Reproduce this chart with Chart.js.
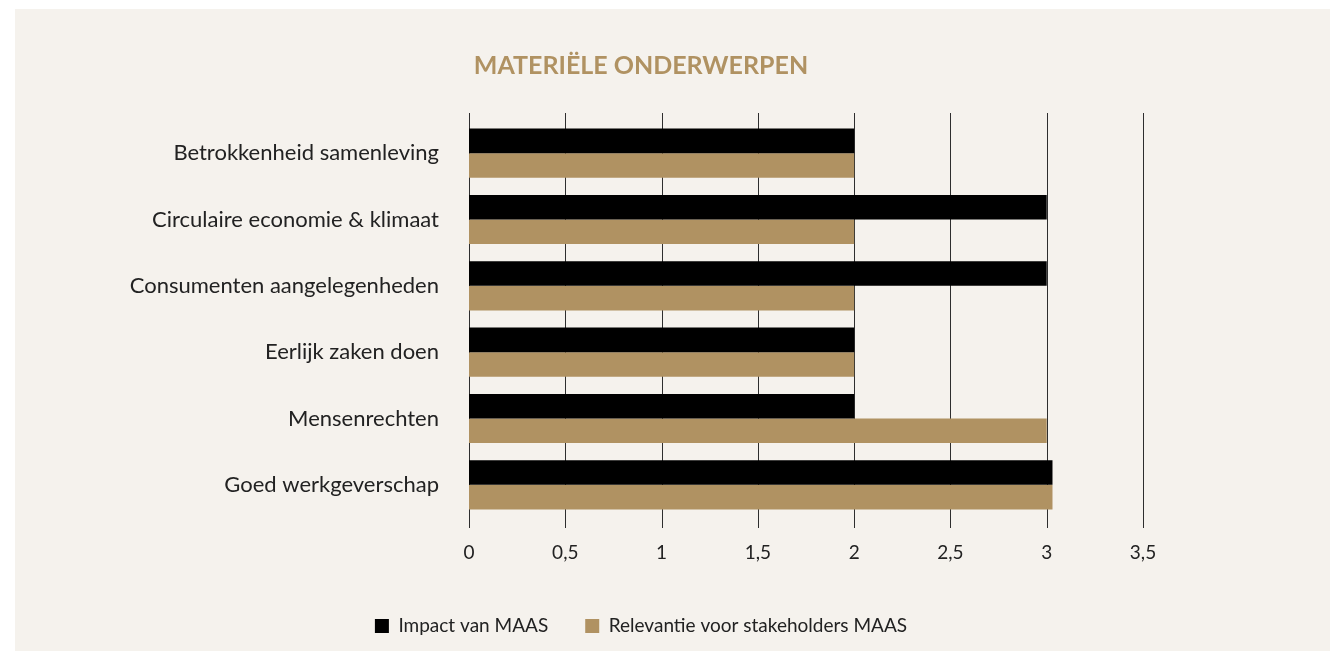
<!DOCTYPE html>
<html>
<head>
<meta charset="utf-8">
<script src="https://cdn.jsdelivr.net/npm/chart.js@4"></script>
<style>
  html, body { margin: 0; padding: 0; background: #ffffff; width: 1330px; height: 651px; overflow: hidden; }
  #wrap { position: absolute; left: 15px; top: 9px; width: 1315px; height: 642px; background: #f5f2ed; }
  canvas { display: block; }
</style>
</head>
<body>
<div id="wrap"><canvas id="c" width="1315" height="642"></canvas></div>
<script>
const titleText = 'MATERIËLE ONDERWERPEN';
const categories = [
  'Betrokkenheid samenleving',
  'Circulaire economie & klimaat',
  'Consumenten aangelegenheden',
  'Eerlijk zaken doen',
  'Mensenrechten',
  'Goed werkgeverschap'
];
const seriesNames = ['Impact van MAAS', 'Relevantie voor stakeholders MAAS'];
const impact = [2, 3, 3, 2, 2, 3.03];
const relevantie = [2, 2, 2, 2, 3, 3.03];
const xTickLabels = ['0', '0,5', '1', '1,5', '2', '2,5', '3', '3,5'];

const BLACK = '#000000';
const TAN = '#b09262';
const FONT = 'Lato, "Open Sans", sans-serif';
const PAD = { top: 42, bottom: 5.5, left: 100, right: 187 };
const PLOT_LEFT = 454;
const HEADER_SHIFT = 12;

const gridPlugin = {
  id: 'extGrid',
  afterLayout(chart) {
    [chart.titleBlock, chart.legend].forEach(b => {
      if (b) { b.left += HEADER_SHIFT; b.right += HEADER_SHIFT; }
    });
  },
  beforeDatasetsDraw(chart) {
    const xs = chart.scales.x;
    const area = chart.chartArea;
    const ctx = chart.ctx;
    ctx.save();
    ctx.strokeStyle = '#2e2e2e';
    ctx.lineWidth = 1;
    xs.ticks.forEach((t, i) => {
      const x = Math.round(xs.getPixelForTick(i)) + 0.5;
      ctx.beginPath();
      ctx.moveTo(x, area.top - 7);
      ctx.lineTo(x, area.bottom + 10);
      ctx.stroke();
    });
    ctx.restore();
  }
};

new Chart(document.getElementById('c'), {
  type: 'bar',
  data: {
    labels: categories,
    datasets: [
      { label: seriesNames[0], data: impact, backgroundColor: BLACK, borderWidth: 0 },
      { label: seriesNames[1], data: relevantie, backgroundColor: TAN, borderWidth: 0 }
    ]
  },
  options: {
    indexAxis: 'y',
    responsive: false,
    animation: false,
    devicePixelRatio: 1,
    layout: { padding: PAD },
    datasets: { bar: { barPercentage: 1, categoryPercentage: 0.74 } },
    scales: {
      x: {
        min: 0, max: 3.5,
        border: { display: false },
        grid: { display: false, drawTicks: false },
        afterFit(scale) { scale.height = 61.5; },
        ticks: {
          stepSize: 0.5,
          padding: 23,
          color: '#222222',
          font: { family: FONT, size: 19 },
          callback: (v, i) => xTickLabels[i]
        }
      },
      y: {
        border: { display: false },
        grid: { display: false, drawTicks: false },
        afterFit(scale) { scale.width = PLOT_LEFT - PAD.left; },
        ticks: {
          padding: 30,
          color: '#222222',
          font: { family: FONT, size: 22 }
        }
      }
    },
    plugins: {
      title: {
        display: true,
        text: titleText,
        color: TAN,
        font: { family: FONT, size: 25, weight: 'bold' },
        padding: { top: 0, bottom: 39 }
      },
      legend: {
        position: 'bottom',
        labels: {
          boxWidth: 14, boxHeight: 14,
          padding: 37,
          color: '#222222',
          font: { family: FONT, size: 19 }
        }
      },
      tooltip: { enabled: false }
    }
  },
  plugins: [gridPlugin]
});
</script>
</body>
</html>
